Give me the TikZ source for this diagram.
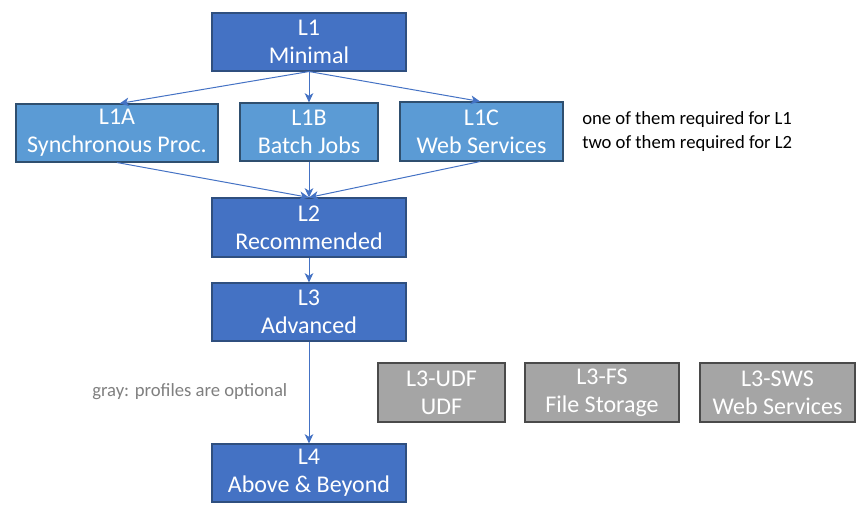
\documentclass[tikz,border=0pt]{standalone}
\usepackage{fontspec}
\setmainfont{Carlito}
\usetikzlibrary{arrows.meta}
\definecolor{dblue}{HTML}{4472C4}
\definecolor{dblueb}{HTML}{2F4F7F}
\definecolor{lblue}{HTML}{5B9BD5}
\definecolor{lblueb}{HTML}{2F4F6F}
\definecolor{gbox}{HTML}{A5A5A5}
\definecolor{gboxb}{HTML}{4A4A4A}
\definecolor{gtext}{HTML}{7F7F7F}
\tikzset{
  lvl/.style={draw=dblueb, fill=dblue, line width=0.8pt, text=white, align=center, inner sep=0pt,
    font=\fontsize{18}{21}\selectfont},
  sub/.style={draw=lblueb, fill=lblue, line width=0.8pt, text=white, align=center, inner sep=0pt,
    font=\fontsize{18}{21}\selectfont},
  opt/.style={draw=gboxb, fill=gbox, line width=0.8pt, text=white, align=center, inner sep=0pt,
    font=\fontsize{18}{21}\selectfont},
  conn/.style={draw=dblue, line width=0.75pt, -{Stealth[length=7pt,width=6.5pt,inset=2pt]}},
}
\begin{document}
\begin{tikzpicture}[x=0.75pt,y=-0.75pt]
\useasboundingbox (0,0) rectangle (867,513);
\node[lvl, minimum width=194*0.75pt, minimum height=58*0.75pt] (L1) at (309,42) {L1\\Minimal};
\node[sub, minimum width=202*0.75pt, minimum height=58*0.75pt] (L1A) at (117,133) {L1A\\Synchronous Proc.};
\node[sub, minimum width=138*0.75pt, minimum height=58*0.75pt] (L1B) at (309,132) {L1B\\Batch Jobs};
\node[sub, minimum width=163*0.75pt, minimum height=59*0.75pt] (L1C) at (481.5,131.5) {L1C\\Web Services};
\node[lvl, minimum width=194*0.75pt, minimum height=59*0.75pt] (L2) at (309,227.5) {L2\\Recommended};
\node[lvl, minimum width=194*0.75pt, minimum height=58*0.75pt] (L3) at (309,312) {L3\\Advanced};
\node[lvl, minimum width=194*0.75pt, minimum height=58*0.75pt] (L4) at (309,473) {L4\\Above \& Beyond};
\node[opt, minimum width=127*0.75pt, minimum height=59*0.75pt] (UDF) at (441.5,392.5) {L3-UDF\\UDF};
\node[opt, minimum width=154*0.75pt, minimum height=59*0.75pt] (FS) at (602,392.5) {L3-FS\\File Storage};
\node[opt, minimum width=155*0.75pt, minimum height=59*0.75pt] (SWS) at (777.5,392.5) {L3-SWS\\Web Services};
\node[anchor=west, align=left, inner sep=0pt, font=\fontsize{14}{17.5}\selectfont] (note) at (582,131.5)
  {one of them required for L1\\two of them required for L2};
\node[anchor=west, inner sep=0pt, text=gtext, font=\fontsize{14}{17}\selectfont] (gray) at (92,392) {gray: profiles are optional};
\draw[conn] (L1.south) -- ([xshift=2pt]L1A.north);
\draw[conn] (L1.south) -- (L1B.north);
\draw[conn] (L1.south) -- ([xshift=-1pt]L1C.north);
\draw[conn] (L1A.south) -- (L2.north);
\draw[conn] (L1B.south) -- (L2.north);
\draw[conn] ([xshift=-1pt]L1C.south) -- (L2.north);
\draw[conn] (L2.south) -- (L3.north);
\draw[conn] (L3.south) -- (L4.north);
\end{tikzpicture}
\end{document}
